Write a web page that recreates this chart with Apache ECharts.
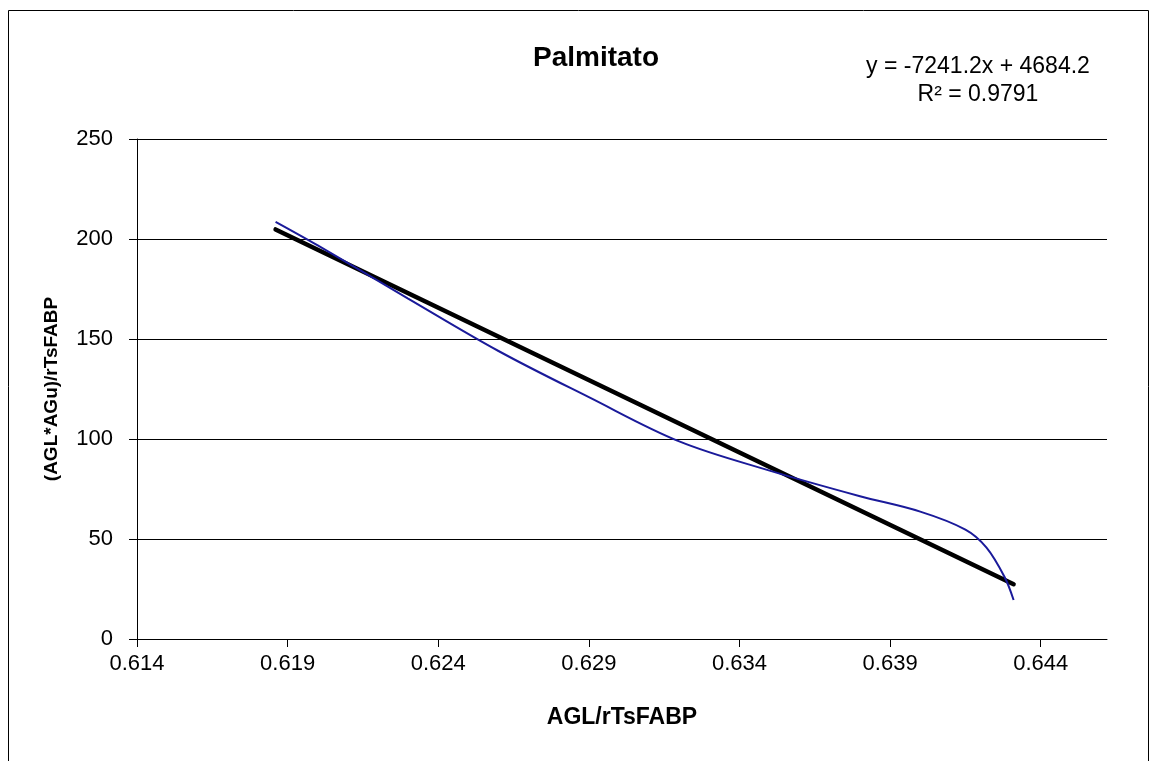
<!DOCTYPE html>
<html>
<head>
<meta charset="utf-8">
<script src="https://cdn.jsdelivr.net/npm/echarts@6/dist/echarts.min.js"></script>
<style>
html,body{margin:0;padding:0;background:#fff;}
#chart{width:1154px;height:761px;}
</style>
</head>
<body>
<div id="chart"></div>
<script>
const xValues = [0.6186, 0.6200, 0.6230, 0.6260, 0.6290, 0.6320, 0.6350, 0.6380, 0.6400, 0.6415, 0.6422, 0.6428, 0.6431];
const yValues = [208.6, 196.8, 170.2, 144.0, 120.9, 98.8, 84.2, 71.4, 63.7, 54.7, 45.7, 31.0, 19.5];
// Linear trend line (from the displayed equation)
const trendSlope = -7241.2;
const trendIntercept = 4684.2;
const trendX = [0.6186, 0.6431];
const xTicks = [0.614, 0.619, 0.624, 0.629, 0.634, 0.639, 0.644];
const titleText = 'Palmitato';
const equationLines = ['y = -7241.2x + 4684.2', 'R² = 0.9791'];
const xName = 'AGL/rTsFABP';
const yName = '(AGL*AGu)/rTsFABP';

const seriesData = xValues.map((x, i) => [x, yValues[i]]);
const trendData = trendX.map(x => [x, trendSlope * x + trendIntercept]);

const chart = echarts.init(document.getElementById('chart'));
const font = 'Liberation Sans, Arial, sans-serif';
chart.setOption({
  animation: false,
  backgroundColor: '#ffffff',
  textStyle: { fontFamily: font },
  title: {
    text: titleText,
    left: 591, top: 39, textAlign: 'center',
    textStyle: { fontFamily: font, fontSize: 28, fontWeight: 'bold', color: '#000' }
  },
  graphic: [
    { type: 'rect', shape: { x: 8.5, y: 10.5, width: 1140, height: 800 },
      style: { fill: 'none', stroke: '#000', lineWidth: 1 }, silent: true },
    { type: 'text', x: 978, y: 55, style: { text: equationLines[0], fill: '#000', font: '23px ' + font, textAlign: 'center' } },
    { type: 'text', x: 978, y: 83, style: { text: equationLines[1], fill: '#000', font: '23px ' + font, textAlign: 'center' } }
  ],
  grid: { left: 137, top: 139, right: 47, bottom: 122, containLabel: false },
  xAxis: {
    type: 'value', min: 0.614, max: 0.6462, interval: 0.005,
    name: xName, nameLocation: 'middle', nameGap: 67,
    nameTextStyle: { fontFamily: font, fontSize: 23, fontWeight: 'bold', color: '#000' },
    axisLine: { show: true, onZero: false, lineStyle: { color: '#000', width: 1 } },
    axisTick: { show: true, inside: false, length: 8, lineStyle: { color: '#000' }, customValues: xTicks },
    axisLabel: { margin: 14, fontSize: 22, color: '#000', fontFamily: font, customValues: xTicks,
      formatter: v => v.toFixed(3) },
    splitLine: { show: false }
  },
  yAxis: {
    type: 'value', min: 0, max: 250, interval: 50,
    name: yName, nameLocation: 'middle', nameGap: 76,
    nameTextStyle: { fontFamily: font, fontSize: 19, fontWeight: 'bold', color: '#000' },
    axisLine: { show: true, lineStyle: { color: '#000', width: 1 } },
    axisTick: { show: true, inside: false, length: 8, lineStyle: { color: '#000' } },
    axisLabel: { margin: 24, fontSize: 22, color: '#000', fontFamily: font },
    splitLine: { show: true, lineStyle: { color: '#000', width: 1 } }
  },
  series: [
    {
      type: 'line', data: seriesData, smooth: 0.35, showSymbol: false, symbol: 'none',
      lineStyle: { color: '#1a1a9a', width: 2 }, z: 3
    },
    {
      type: 'line', data: trendData, showSymbol: false, symbol: 'none',
      lineStyle: { color: '#000', width: 4.5, cap: 'round' }, z: 2
    }
  ]
});
</script>
</body>
</html>
